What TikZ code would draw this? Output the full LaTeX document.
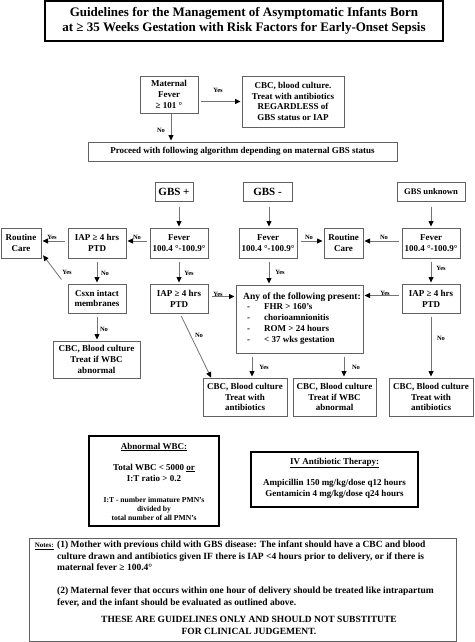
\documentclass[tikz,border=0pt]{standalone}
\usepackage{fontspec}
\setmainfont{Liberation Serif}
\usetikzlibrary{arrows.meta}
\newcommand\bxfont{\fontsize{9}{10.8}\selectfont\bfseries}
\newcommand\lblfont{\fontsize{6.5}{7}\selectfont\bfseries}
\newcommand\ttlfont{\fontsize{13}{14.5}\selectfont\bfseries}
\newcommand\notefont{\fontsize{9.5}{11.5}\selectfont\bfseries}
\tikzset{
  box/.style={draw=black!62, line width=1pt, fill=white, inner sep=0pt, align=center, font=\bxfont},
  thickbox/.style={draw=black, line width=1.5pt, inner sep=0pt},
  arr/.style={draw=black!55, line width=0.8pt, -{Triangle[length=5.5pt,width=5pt,color=black]}, shorten <=3pt, shorten >=1pt},
  lbl/.style={font=\lblfont, inner sep=0pt},
  txt/.style={font=\bxfont, inner sep=0pt, align=center},
}
\begin{document}
\begin{tikzpicture}[x=1pt,y=-1pt]
\useasboundingbox (0,0) rectangle (474,642);
\fill[white] (0,0) rectangle (474,642);

% title
\node[draw=black, line width=1.6pt, inner sep=0pt, minimum width=398pt, minimum height=40pt, align=center, font=\ttlfont] (title) at (244,21)
  {Guidelines for the Management of Asymptomatic Infants Born\\at ≥ 35 Weeks Gestation with Risk Factors for Early-Onset Sepsis};

% top
\node[box, minimum width=58pt, minimum height=37pt] (matf) at (169,94.5) {Maternal\\Fever\\≥ 101 °};
\node[box, minimum width=102pt, minimum height=51pt] (cbc0) at (293,101.5) {CBC, blood culture.\\Treat with antibiotics\\REGARDLESS of\\GBS status or IAP};
\node[box, minimum width=309pt, minimum height=19pt] (proc) at (242.5,151.5) {Proceed with following algorithm depending on maternal GBS status};

% GBS status
\node[box, minimum width=38pt, minimum height=19pt, font=\fontsize{11}{12}\selectfont\bfseries] (gbsp) at (174,191.5) {GBS +};
\node[box, minimum width=49pt, minimum height=19pt, font=\fontsize{11}{12}\selectfont\bfseries] (gbsm) at (267.5,191.5) {GBS -};
\node[box, minimum width=68pt, minimum height=19pt, font=\fontsize{8.6}{10}\selectfont\bfseries] (gbsu) at (431,191.5) {GBS unknown};

% row of fevers
\node[box, minimum width=58pt, minimum height=30pt] (fevp) at (179,243) {Fever\\100.4 °-100.9°};
\node[box, minimum width=58pt, minimum height=30pt] (fevm) at (268,243) {Fever\\100.4 °-100.9°};
\node[box, minimum width=58pt, minimum height=30pt] (fevu) at (431,243) {Fever\\100.4 °-100.9°};
\node[box, minimum width=58pt, minimum height=30pt] (iapl) at (97,243) {IAP ≥ 4 hrs\\PTD};
\node[box, minimum width=40pt, minimum height=30pt] (rcl) at (21,243) {Routine\\Care};
\node[box, minimum width=39pt, minimum height=30pt] (rcm) at (343.5,243) {Routine\\Care};

% second row
\node[box, minimum width=58pt, minimum height=29pt] (csxn) at (97,298.5) {Csxn intact\\membranes};
\node[box, minimum width=58pt, minimum height=29pt] (iapp) at (179,298.5) {IAP ≥ 4 hrs\\PTD};
\node[box, minimum width=58pt, minimum height=29pt] (iapu) at (431,298.5) {IAP ≥ 4 hrs\\PTD};
\node[box, minimum width=127pt, minimum height=68pt] (any) at (299.5,319) {};
\node[txt, font=\fontsize{9.5}{11}\selectfont\bfseries] (anyhd) at (302,297) {Any of the following present:};
\node[txt, align=left, anchor=west] (anylist) at (247,324)
  {\makebox[17pt][l]{-}FHR > 160's\\\makebox[17pt][l]{-}chorioamnionitis\\\makebox[17pt][l]{-}ROM > 24 hours\\\makebox[17pt][l]{-}< 37 wks gestation};

% outcomes
\node[box, minimum width=87pt, minimum height=37pt] (cbcl) at (96.5,359.5) {CBC, Blood culture\\Treat if WBC\\abnormal};
\node[box, minimum width=84pt, minimum height=38pt] (cbc1) at (245,397) {CBC, Blood culture\\Treat with\\antibiotics};
\node[box, minimum width=83pt, minimum height=38pt] (cbc2) at (334.5,397) {CBC, Blood culture\\Treat if WBC\\abnormal};
\node[box, minimum width=84pt, minimum height=38pt] (cbc3) at (431,397) {CBC, Blood culture\\Treat with\\antibiotics};

% arrows
\draw[arr] ([xshift=-1pt]matf.east |- cbc0.west) -- (cbc0.west);
\node[lbl] (y0) at (218,90) {Yes};
\draw[arr, shorten <=0pt] ([xshift=2pt]matf.south) -- ([xshift=2pt]matf.south |- proc.north);
\node[lbl] (n0) at (161,130) {No};

\draw[arr, shorten <=5pt] (fevp.north |- gbsp.south) -- (fevp.north);
\draw[arr, shorten <=5pt] ([xshift=1pt]fevm.north |- gbsm.south) -- ([xshift=1pt]fevm.north);
\draw[arr, shorten <=5pt] (gbsu.south) -- (fevu.north);

\draw[arr] ([yshift=2pt]fevp.west) -- ([yshift=2pt]iapl.east);
\node[lbl] (n1) at (137,237) {No};
\draw[arr] ([yshift=2pt]iapl.west) -- ([yshift=2pt]rcl.east);
\node[lbl] (y1) at (52,237) {Yes};
\draw[arr] (iapl.south) -- (csxn.north);
\node[lbl] (n2) at (105,273) {No};
\draw[arr, shorten <=0pt] ([xshift=-6pt,yshift=4pt]csxn.north west) -- ([xshift=1pt,yshift=4pt]rcl.south east);
\node[lbl] (y2) at (67,272) {Yes};
\draw[arr] (csxn.south) -- (csxn.south |- cbcl.north);
\node[lbl] (n3) at (104,329) {No};

\draw[arr] (fevp.south) -- (iapp.north);
\node[lbl] (y3) at (189,273) {Yes};
\draw[arr] ([yshift=2pt]iapp.east) -- ([yshift=2pt]iapp.east -| any.west);
\node[lbl] (y4) at (218,294) {Yes};
\draw[arr] ([xshift=1pt]iapp.south) -- ([xshift=9pt,yshift=-1pt]cbc1.north west);
\node[lbl] (n4) at (199,335) {No};

\draw[arr] ([yshift=2pt]fevm.east) -- ([yshift=2pt]rcm.west);
\node[lbl] (n5) at (309,237) {No};
\draw[arr] ([yshift=2pt]fevu.west) -- ([yshift=2pt]rcm.east);
\node[lbl] (n6) at (384,237) {No};
\draw[arr] ([xshift=1pt]fevm.south) -- ([xshift=1pt]fevm.south |- any.north);
\node[lbl] (y5) at (280,272) {Yes};
\draw[arr] (fevu.south) -- (iapu.north);
\node[lbl] (y6) at (441,268) {Yes};
\draw[arr] ([yshift=3pt]iapu.west) -- ([yshift=3pt]iapu.west -| any.east);
\node[lbl] (y7) at (385,293) {Yes};
\draw[arr] (iapu.south) -- (cbc3.north);
\node[lbl] (n7) at (441,338) {No};
\draw[arr] ([xshift=7pt]cbc1.north |- any.south) -- ([xshift=7pt]cbc1.north);
\node[lbl] (y8) at (264,367) {Yes};
\draw[arr] ([xshift=9.5pt]cbc2.north |- any.south) -- ([xshift=9.5pt]cbc2.north);
\node[lbl] (n8) at (356,367) {No};

% Abnormal WBC
\node[thickbox, minimum width=130pt, minimum height=90pt] (wbc) at (154,481) {};
\node[txt] (wbchd) at (154,447) {\underline{Abnormal WBC:}};
\node[txt, font=\fontsize{9}{11}\selectfont\bfseries] (wbcb) at (154,472.5) {Total WBC < 5000 \underline{or}\\I:T ratio > 0.2};
\node[txt, font=\fontsize{7.6}{9}\selectfont\bfseries] (wbcs) at (154,508.5) {I:T - number immature PMN's\\divided by\\total number of all PMN's};

% IV therapy
\node[thickbox, minimum width=167pt, minimum height=55pt] (iv) at (334.5,479.5) {};
\node[txt] (ivhd) at (334.5,463) {\underline{IV Antibiotic Therapy:}};
\node[txt] (ivb) at (334.5,488.5) {Ampicillin 150 mg/kg/dose q12 hours\\Gentamicin 4 mg/kg/dose q24 hours};

% notes
\node[draw=black!62, line width=1pt, inner sep=0pt, minimum width=427pt, minimum height=103pt] (notes) at (242.5,589.5) {};
\node[inner sep=0pt, font=\fontsize{7}{8}\selectfont\bfseries, anchor=east] (notelbl) at (54,546) {\underline{Notes:}};
\node[inner sep=0pt, font=\notefont, align=left, anchor=north west] (note1) at (57,541)
  {(1) Mother with previous child with GBS disease: The infant should have a CBC and blood\\
   culture drawn and antibiotics given IF there is IAP <4 hours prior to delivery, or if there is\\
   maternal fever ≥ 100.4°};
\node[inner sep=0pt, font=\notefont, align=left, anchor=north west] (note2) at (57,587)
  {(2) Maternal fever that occurs within one hour of delivery should be treated like intrapartum\\
   fever, and the infant should be evaluated as outlined above.};
\node[inner sep=0pt, font=\notefont, align=center] (note3) at (249,625.5)
  {THESE ARE GUIDELINES ONLY AND SHOULD NOT SUBSTITUTE\\FOR CLINICAL JUDGEMENT.};
\end{tikzpicture}
\end{document}
